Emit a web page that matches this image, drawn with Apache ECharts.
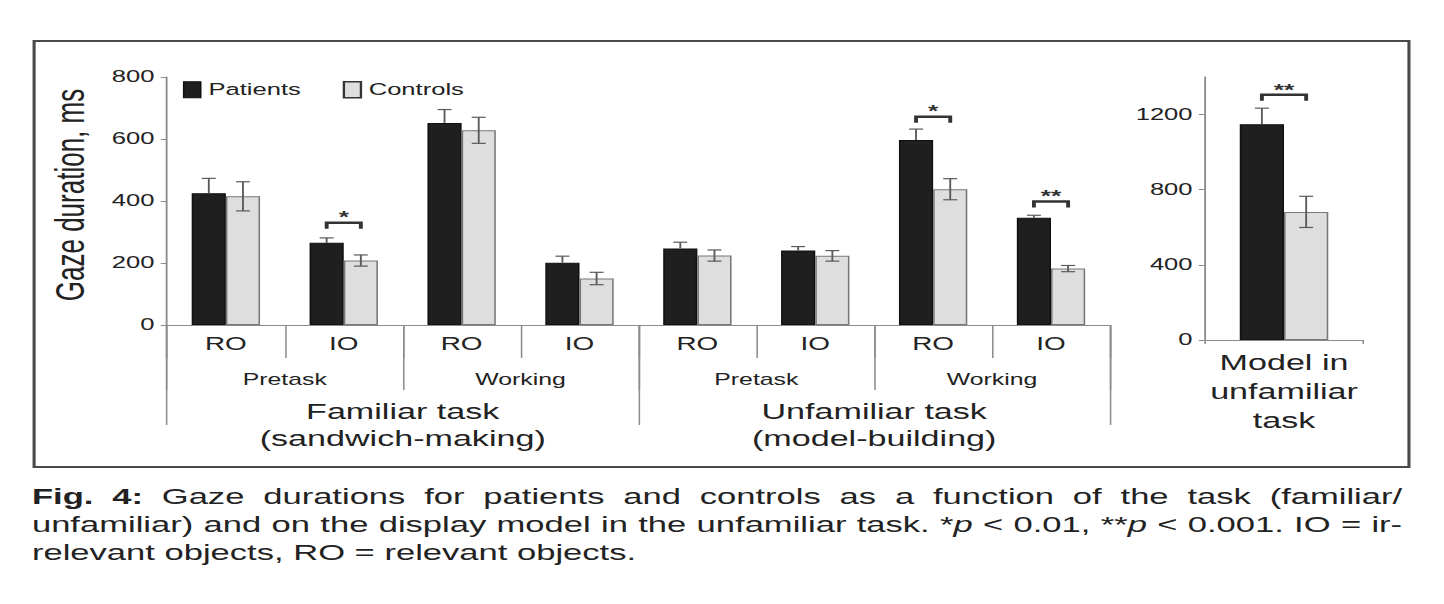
<!DOCTYPE html>
<html>
<head>
<meta charset="utf-8">
<title>Gaze durations</title>
<script src="https://cdn.jsdelivr.net/npm/echarts@6/dist/echarts.min.js"></script>
<style>
  html, body { margin: 0; background: #fff; overflow: hidden; }
  /* the source figure is stretched sideways, so the whole page is drawn narrow and scaled */
  #page { position: absolute; left: 0; top: 0; width: 931.6px; height: 604px;
          transform: scaleX(1.55); transform-origin: 0 0;
          font-family: "Liberation Sans", Arial, sans-serif; color: #222; }
  #frame { position: absolute; left: 20.6px; top: 40px; width: 889px; height: 428px;
           border: 2px solid #4a4a4a; box-sizing: border-box; }
  #chart { position: absolute; left: 0; top: 0; width: 931.6px; height: 470px; }
  #caption { position: absolute; left: 20.6px; top: 483px; width: 884px;
             font-size: 22.3px; line-height: 28px; }
  .just { text-align: justify; text-align-last: justify; }
</style>
</head>
<body>
<div id="page">
  <div id="frame"></div>
  <div id="chart"></div>
  <div id="caption">
    <div class="just"><b>Fig. 4:</b> Gaze durations for patients and controls as a function of the task (familiar/</div>
    <div class="just">unfamiliar) and on the display model in the unfamiliar task. *<i>p</i> &lt; 0.01, **<i>p</i> &lt; 0.001. IO = ir-</div>
    <div>relevant objects, RO = relevant objects.</div>
  </div>
</div>
<script>
// values (ms)
const objects = ['RO', 'IO', 'RO', 'IO', 'RO', 'IO', 'RO', 'IO'];
const phases = ['Pretask', 'Working', 'Pretask', 'Working'];
const tasks = ['Familiar task\n(sandwich-making)', 'Unfamiliar task\n(model-building)'];
const patients = [425, 265, 652, 201, 247, 240, 597, 346];
const patientsErr = [48, 16, 43, 21, 20, 13, 35, 8];
const controls = [415, 208, 628, 150, 224, 223, 438, 182];
const controlsErr = [47, 18, 42, 20, 18, 17, 34, 10];
const sigLeft = [[1, 330], [6, 672], [7, 398]];
const sigLeftMarks = ['*', '*', '**'];

const modelCat = ['Model in\nunfamiliar\ntask'];
const modelPatients = [1148];
const modelPatientsErr = [86];
const modelControls = [682];
const modelControlsErr = [83];
const sigModel = [[0, 1305]];
const sigModelMarks = ['**'];

const FONT = '"Liberation Sans", Arial, sans-serif';
const TXT = '#222';
const AX = '#8c8c8c';
const BLACK = '#1f1f1f';
const GRAY = '#dedede';

function errRender(offset, both) {
    return function (params, api) {
        const i = api.value(0), v = api.value(1), e = api.value(2);
        const bw = api.size([1, 0])[0];
        const x = api.coord([i, 0])[0] + offset * bw;
        const yTop = api.coord([i, v + e])[1];
        const yBot = api.coord([i, both ? v - e : v])[1];
        const st = { stroke: '#5a5a5a', lineWidth: 1.2 };
        const kids = [
            { type: 'line', shape: { x1: x, y1: yTop, x2: x, y2: yBot }, style: st },
            { type: 'line', shape: { x1: x - 4.5, y1: yTop, x2: x + 4.5, y2: yTop }, style: st }
        ];
        if (both) kids.push({ type: 'line', shape: { x1: x - 4.5, y1: yBot, x2: x + 4.5, y2: yBot }, style: st });
        return { type: 'group', children: kids };
    };
}

function sigRender(offset, marks) {
    return function (params, api) {
        const c = api.coord([api.value(0), api.value(1)]);
        const bw = api.size([1, 0])[0];
        const x1 = c[0] - offset * bw, x2 = c[0] + offset * bw, y = c[1];
        return {
            type: 'group',
            children: [
                { type: 'polyline', shape: { points: [[x1, y + 6], [x1, y], [x2, y], [x2, y + 6]] },
                  style: { stroke: '#333', lineWidth: 2.5, fill: null } },
                { type: 'text', x: (x1 + x2) / 2, y: y - 5,
                  style: { text: marks[params.dataIndex], fill: '#333', font: 'bold 17px ' + FONT,
                           align: 'center', verticalAlign: 'middle' } }
            ]
        };
    };
}

const sepTick = len => ({ show: true, interval: 0, length: len, lineStyle: { color: AX, width: 1 } });

const chart = echarts.init(document.getElementById('chart'), null, { renderer: 'svg' });
chart.setOption({
    animation: false,
    textStyle: { fontFamily: FONT },
    legend: {
        left: 118, top: 81, padding: 0, itemWidth: 11, itemHeight: 16, itemGap: 27,
        icon: 'rect',
        textStyle: { fontSize: 16.5, color: TXT, fontFamily: FONT },
        data: [
            { name: 'Patients', itemStyle: { color: BLACK, borderColor: '#111', borderWidth: 1 } },
            { name: 'Controls', itemStyle: { color: GRAY, borderColor: '#333', borderWidth: 1.5 } }
        ]
    },
    grid: [
        { left: 107.7, top: 77, width: 608.4, height: 248 },
        { left: 777.4, top: 77, width: 102, height: 263 }
    ],
    xAxis: [
        {
            type: 'category', gridIndex: 0, position: 'bottom', data: objects,
            axisLine: { lineStyle: { color: AX, width: 1.2 } },
            axisTick: sepTick(33),
            axisLabel: { interval: 0, margin: 10, fontSize: 18, color: TXT }
        },
        {
            type: 'category', gridIndex: 0, position: 'bottom', data: phases,
            axisLine: { show: false },
            axisTick: sepTick(65),
            axisLabel: { interval: 0, margin: 46, fontSize: 16, color: TXT }
        },
        {
            type: 'category', gridIndex: 0, position: 'bottom', data: tasks,
            axisLine: { show: false },
            axisTick: sepTick(100),
            axisLabel: { interval: 0, margin: 73, fontSize: 22, lineHeight: 27, color: TXT }
        },
        {
            type: 'category', gridIndex: 1, position: 'bottom', data: modelCat,
            axisLine: { lineStyle: { color: AX, width: 1.2 } },
            axisTick: sepTick(4),
            axisLabel: { interval: 0, margin: 8, fontSize: 22, lineHeight: 29, color: TXT }
        }
    ],
    yAxis: [
        {
            type: 'value', gridIndex: 0, min: 0, max: 800, interval: 200,
            name: 'Gaze duration, ms', nameLocation: 'middle', nameGap: 50,
            nameTextStyle: { fontSize: 26, color: TXT, padding: [0, 0, 0, 12] },
            axisLine: { show: true, lineStyle: { color: AX, width: 1.2 } },
            axisTick: { show: true, length: 4, lineStyle: { color: AX } },
            axisLabel: { margin: 8, fontSize: 16.5, color: TXT },
            splitLine: { show: false }
        },
        {
            type: 'value', gridIndex: 1, min: 0, max: 1400, interval: 400,
            axisLine: { show: true, lineStyle: { color: AX, width: 1.2 } },
            axisTick: { show: true, length: 4, lineStyle: { color: AX } },
            axisLabel: { margin: 8, fontSize: 16.5, color: TXT, showMaxLabel: false,
                         formatter: v => String(v) },
            splitLine: { show: false }
        }
    ],
    series: [
        { name: 'Patients', type: 'bar', xAxisIndex: 0, yAxisIndex: 0, data: patients,
          barGap: 0, barCategoryGap: '42%',
          itemStyle: { color: BLACK, borderColor: '#111', borderWidth: 1 } },
        { name: 'Controls', type: 'bar', xAxisIndex: 0, yAxisIndex: 0, data: controls,
          itemStyle: { color: GRAY, borderColor: '#777', borderWidth: 1 } },
        { type: 'custom', xAxisIndex: 0, yAxisIndex: 0, renderItem: errRender(-0.145, false),
          data: patients.map((v, i) => [i, v, patientsErr[i]]), z: 3 },
        { type: 'custom', xAxisIndex: 0, yAxisIndex: 0, renderItem: errRender(0.145, true),
          data: controls.map((v, i) => [i, v, controlsErr[i]]), z: 3 },
        { type: 'custom', xAxisIndex: 0, yAxisIndex: 0, renderItem: sigRender(0.145, sigLeftMarks),
          data: sigLeft, z: 3 },

        { name: 'Patients', type: 'bar', xAxisIndex: 3, yAxisIndex: 1, data: modelPatients,
          barGap: 0, barCategoryGap: '44%',
          itemStyle: { color: BLACK, borderColor: '#111', borderWidth: 1 } },
        { name: 'Controls', type: 'bar', xAxisIndex: 3, yAxisIndex: 1, data: modelControls,
          itemStyle: { color: GRAY, borderColor: '#777', borderWidth: 1 } },
        { type: 'custom', xAxisIndex: 3, yAxisIndex: 1, renderItem: errRender(-0.14, false),
          data: modelPatients.map((v, i) => [i, v, modelPatientsErr[i]]), z: 3 },
        { type: 'custom', xAxisIndex: 3, yAxisIndex: 1, renderItem: errRender(0.14, true),
          data: modelControls.map((v, i) => [i, v, modelControlsErr[i]]), z: 3 },
        { type: 'custom', xAxisIndex: 3, yAxisIndex: 1, renderItem: sigRender(0.14, sigModelMarks),
          data: sigModel, z: 3 }
    ]
});
</script>
</body>
</html>
